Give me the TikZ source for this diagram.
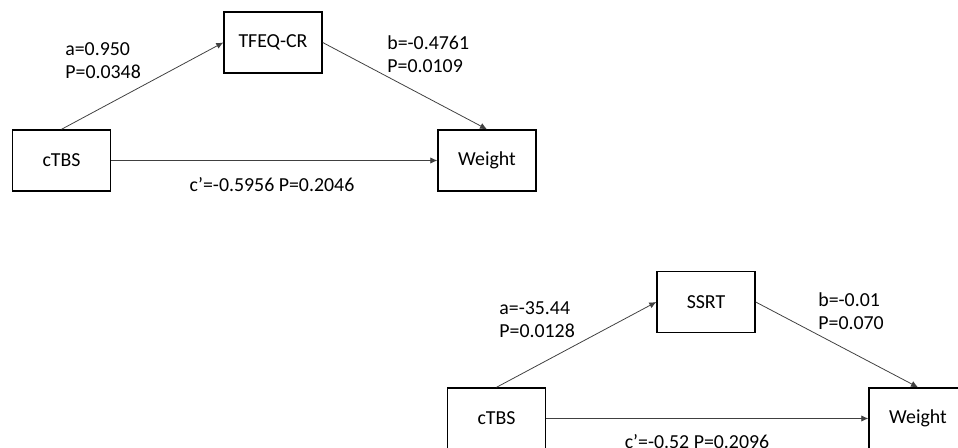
\documentclass[tikz,border=0pt]{standalone}
\usepackage{fontspec}
\setmainfont{Carlito}
\usepackage{tikz}
\usetikzlibrary{positioning,arrows.meta}

\begin{document}
\begin{tikzpicture}[
  x=0.02cm, y=-0.02cm,
  box/.style={rectangle, draw, line width=0.8pt, inner sep=0pt, minimum width=1.96cm, minimum height=1.22cm, font=\fontsize{11.3}{13.6}\selectfont},
  lbl/.style={align=left, inner sep=0pt, font=\fontsize{11.3}{13.2}\selectfont},
  arrow/.style={-{Latex[length=4pt,width=3.6pt]}, black!75, line width=0.45pt}
]
\useasboundingbox (0,0) rectangle (958,448);
\clip (0,0) rectangle (958,448);

% Top model
\node[box] (ctbs1) at (61.5,160.5) {cTBS};
\node[box] (tfeq) at (273,42.5) {TFEQ-CR};
\node[box] (weight1) at (487,160.5) {Weight};

\node[lbl, anchor=west] (a1) at (65,60.5) {a=0.950\\P=0.0348};
\node[lbl, anchor=west] (b1) at (387,54) {b=-0.4761\\P=0.0109};
\node[lbl] (c1) at (272,185) {c’=-0.5956 P=0.2046};

% Bottom model
\node[box] (ctbs2) at (496.5,418.5) {cTBS};
\node[box] (ssrt) at (706,302) {SSRT};
\node[box] (weight2) at (918,418.5) {Weight};

\node[lbl, anchor=west] (a2) at (499,320) {a=-35.44\\P=0.0128};
\node[lbl, anchor=west] (b2) at (818,311.5) {b=-0.01\\P=0.070};
\node[lbl] (c2) at (697,442) {c’=-0.52 P=0.2096};

% Arrows
\draw[arrow] (ctbs1.north) -- (tfeq.west);
\draw[arrow] (tfeq.east) -- (weight1.north);
\draw[arrow] (ctbs1) -- (weight1);
\draw[arrow] (ctbs2.north) -- (ssrt.west);
\draw[arrow] (ssrt.east) -- (weight2.north);
\draw[arrow] (ctbs2) -- (weight2);

\end{tikzpicture}
\end{document}
